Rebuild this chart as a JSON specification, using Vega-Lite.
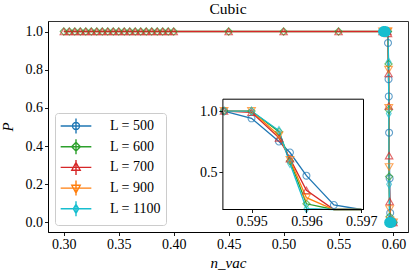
{
  "$schema": "https://vega.github.io/schema/vega-lite/v6.json",
  "width": 360,
  "height": 211,
  "autosize": {"type": "none"},
  "padding": {"left": 48, "top": 21, "right": 8, "bottom": 44},
  "background": "white",
  "title": {"text": "Cubic", "font": "Liberation Serif, DejaVu Serif, serif", "fontSize": 15.5, "fontWeight": "normal", "color": "black", "offset": 4},
  "config": {
    "view": {"stroke": "#333", "strokeWidth": 1},
    "font": "Liberation Serif, DejaVu Serif, serif",
    "axis": {
      "labelFont": "Liberation Serif, DejaVu Serif, serif", "labelFontSize": 14, "labelColor": "black",
      "titleFont": "Liberation Serif, DejaVu Serif, serif", "titleFontSize": 15, "titleFontWeight": "normal", "titleColor": "black",
      "domainColor": "black", "domainWidth": 1, "tickColor": "black", "tickSize": 3.5, "tickWidth": 0.9,
      "grid": false, "labelPadding": 2, "labelFlush": false, "labelOverlap": false
    }
  },
  "datasets": {
    "d": [
      {"L": 500, "x": 0.59, "P": 1.0},
      {"L": 500, "x": 0.5945, "P": 1.0},
      {"L": 500, "x": 0.595, "P": 0.94},
      {"L": 500, "x": 0.5955, "P": 0.75},
      {"L": 500, "x": 0.5957, "P": 0.66},
      {"L": 500, "x": 0.596, "P": 0.47},
      {"L": 500, "x": 0.5965, "P": 0.23},
      {"L": 500, "x": 0.597, "P": 0.05},
      {"L": 500, "x": 0.5975, "P": 0.01},
      {"L": 500, "x": 0.598, "P": 0.0},
      {"L": 500, "x": 0.6, "P": 0.0},
      {"L": 600, "x": 0.3, "P": 1.0}, {"L": 600, "x": 0.305, "P": 1.0}, {"L": 600, "x": 0.31, "P": 1.0},
      {"L": 600, "x": 0.315, "P": 1.0}, {"L": 600, "x": 0.32, "P": 1.0}, {"L": 600, "x": 0.325, "P": 1.0},
      {"L": 600, "x": 0.33, "P": 1.0}, {"L": 600, "x": 0.335, "P": 1.0}, {"L": 600, "x": 0.34, "P": 1.0},
      {"L": 600, "x": 0.345, "P": 1.0}, {"L": 600, "x": 0.35, "P": 1.0}, {"L": 600, "x": 0.355, "P": 1.0},
      {"L": 600, "x": 0.36, "P": 1.0}, {"L": 600, "x": 0.365, "P": 1.0}, {"L": 600, "x": 0.37, "P": 1.0},
      {"L": 600, "x": 0.375, "P": 1.0}, {"L": 600, "x": 0.38, "P": 1.0}, {"L": 600, "x": 0.385, "P": 1.0},
      {"L": 600, "x": 0.39, "P": 1.0}, {"L": 600, "x": 0.395, "P": 1.0}, {"L": 600, "x": 0.4, "P": 1.0},
      {"L": 600, "x": 0.45, "P": 1.0}, {"L": 600, "x": 0.5, "P": 1.0}, {"L": 600, "x": 0.55, "P": 1.0},
      {"L": 600, "x": 0.59, "P": 1.0},
      {"L": 600, "x": 0.5945, "P": 1.0},
      {"L": 600, "x": 0.595, "P": 1.0},
      {"L": 600, "x": 0.5955, "P": 0.83},
      {"L": 600, "x": 0.5957, "P": 0.59},
      {"L": 600, "x": 0.596, "P": 0.24},
      {"L": 600, "x": 0.5965, "P": 0.03},
      {"L": 600, "x": 0.597, "P": 0.0},
      {"L": 600, "x": 0.598, "P": 0.0},
      {"L": 600, "x": 0.6, "P": 0.0},
      {"L": 700, "x": 0.3, "P": 1.0}, {"L": 700, "x": 0.305, "P": 1.0}, {"L": 700, "x": 0.31, "P": 1.0},
      {"L": 700, "x": 0.315, "P": 1.0}, {"L": 700, "x": 0.32, "P": 1.0}, {"L": 700, "x": 0.325, "P": 1.0},
      {"L": 700, "x": 0.33, "P": 1.0}, {"L": 700, "x": 0.335, "P": 1.0}, {"L": 700, "x": 0.34, "P": 1.0},
      {"L": 700, "x": 0.345, "P": 1.0}, {"L": 700, "x": 0.35, "P": 1.0}, {"L": 700, "x": 0.355, "P": 1.0},
      {"L": 700, "x": 0.36, "P": 1.0}, {"L": 700, "x": 0.365, "P": 1.0}, {"L": 700, "x": 0.37, "P": 1.0},
      {"L": 700, "x": 0.375, "P": 1.0}, {"L": 700, "x": 0.38, "P": 1.0}, {"L": 700, "x": 0.385, "P": 1.0},
      {"L": 700, "x": 0.39, "P": 1.0}, {"L": 700, "x": 0.395, "P": 1.0}, {"L": 700, "x": 0.4, "P": 1.0},
      {"L": 700, "x": 0.45, "P": 1.0}, {"L": 700, "x": 0.5, "P": 1.0}, {"L": 700, "x": 0.55, "P": 1.0},
      {"L": 700, "x": 0.59, "P": 1.0},
      {"L": 700, "x": 0.5945, "P": 1.0},
      {"L": 700, "x": 0.595, "P": 0.99},
      {"L": 700, "x": 0.5955, "P": 0.78},
      {"L": 700, "x": 0.5957, "P": 0.61},
      {"L": 700, "x": 0.596, "P": 0.35},
      {"L": 700, "x": 0.5965, "P": 0.11},
      {"L": 700, "x": 0.597, "P": 0.02},
      {"L": 700, "x": 0.598, "P": 0.0},
      {"L": 700, "x": 0.6, "P": 0.0},
      {"L": 900, "x": 0.59, "P": 1.0},
      {"L": 900, "x": 0.5945, "P": 1.0},
      {"L": 900, "x": 0.595, "P": 1.0},
      {"L": 900, "x": 0.5955, "P": 0.8},
      {"L": 900, "x": 0.5957, "P": 0.6},
      {"L": 900, "x": 0.596, "P": 0.29},
      {"L": 900, "x": 0.5965, "P": 0.07},
      {"L": 900, "x": 0.597, "P": 0.01},
      {"L": 900, "x": 0.598, "P": 0.0},
      {"L": 900, "x": 0.6, "P": 0.0},
      {"L": 1100, "x": 0.59, "P": 1.0},
      {"L": 1100, "x": 0.5945, "P": 1.0},
      {"L": 1100, "x": 0.595, "P": 1.0},
      {"L": 1100, "x": 0.5955, "P": 0.84},
      {"L": 1100, "x": 0.5957, "P": 0.57},
      {"L": 1100, "x": 0.596, "P": 0.2},
      {"L": 1100, "x": 0.5965, "P": 0.02},
      {"L": 1100, "x": 0.597, "P": 0.0},
      {"L": 1100, "x": 0.598, "P": 0.0},
      {"L": 1100, "x": 0.6, "P": 0.0}
    ],
    "blob": [
      {"L": 1100, "x": 0.591, "P": 1.0},
      {"L": 1100, "x": 0.5925, "P": 1.0},
      {"L": 1100, "x": 0.5965, "P": 0.0},
      {"L": 1100, "x": 0.5978, "P": 0.0}
    ]
  },
  "layer": [
    {
      "data": {"name": "d"},
      "mark": {"type": "line", "strokeWidth": 1.3, "clip": true},
      "encoding": {
        "x": {"field": "x", "type": "quantitative",
              "scale": {"domain": [0.2856, 0.6132], "nice": false, "zero": false},
              "axis": {"orient": "bottom", "values": [0.3, 0.35, 0.4, 0.45, 0.5, 0.55, 0.6], "format": ".2f", "title": "n_vac", "titleFontStyle": "italic", "titlePadding": 4}},
        "y": {"field": "P", "type": "quantitative",
              "scale": {"domain": [-0.05, 1.055], "nice": false, "zero": false},
              "axis": {"orient": "left", "values": [0, 0.2, 0.4, 0.6, 0.8, 1], "format": ".1f", "title": "P", "titleFontStyle": "italic", "titlePadding": 10}},
        "color": {"field": "L", "type": "nominal",
                  "scale": {"domain": [500, 600, 700, 900, 1100], "range": ["#1f77b4", "#2ca02c", "#d62728", "#ff7f0e", "#17becf"]},
                  "legend": null}
      }
    },
    {
      "data": {"name": "d"},
      "mark": {"type": "point", "filled": false, "strokeWidth": 1.1, "clip": true},
      "encoding": {
        "x": {"field": "x", "type": "quantitative", "scale": {"domain": [0.2856, 0.6132], "nice": false, "zero": false}, "axis": null},
        "y": {"field": "P", "type": "quantitative", "scale": {"domain": [-0.05, 1.055], "nice": false, "zero": false}, "axis": null},
        "color": {"field": "L", "type": "nominal",
                  "scale": {"domain": [500, 600, 700, 900, 1100], "range": ["#1f77b4", "#2ca02c", "#d62728", "#ff7f0e", "#17becf"]},
                  "legend": null},
        "shape": {"field": "L", "type": "nominal",
                  "scale": {"domain": [500, 600, 700, 900, 1100], "range": ["circle", "diamond", "triangle-up", "triangle-down", "M0,-1L0.6,0L0,1L-0.6,0Z"]},
                  "legend": null},
        "size": {"field": "L", "type": "nominal",
                 "scale": {"domain": [500, 600, 700, 900, 1100], "range": [48, 64, 50, 50, 80]},
                 "legend": null}
      }
    },
    {
      "data": {"name": "blob"},
      "mark": {"type": "point", "filled": true, "size": 120, "shape": "circle", "color": "#17becf", "opacity": 1, "clip": true},
      "encoding": {
        "x": {"field": "x", "type": "quantitative", "scale": {"domain": [0.2856, 0.6132], "nice": false, "zero": false}, "axis": null},
        "y": {"field": "P", "type": "quantitative", "scale": {"domain": [-0.05, 1.055], "nice": false, "zero": false}, "axis": null}
      }
    },
    {
      "data": {"name": "d"},
      "transform": [{"filter": "datum.x >= 0.5944 && datum.x <= 0.5971"}],
      "mark": {"type": "line", "strokeWidth": 1.3},
      "encoding": {
        "x": {"field": "x", "type": "quantitative",
              "scale": {"domain": [0.59447, 0.59703], "range": [174.4, 315], "nice": false, "zero": false},
              "axis": {"orient": "bottom", "offset": -23, "values": [0.595, 0.596, 0.597], "format": ".3f", "title": null, "zindex": 1}},
        "y": {"field": "P", "type": "quantitative",
              "scale": {"domain": [0.193, 1.101], "range": [188.5, 77.7], "clamp": true, "nice": false, "zero": false},
              "axis": {"orient": "left", "offset": -174.4, "values": [0.5, 1.0], "format": ".1f", "title": null, "zindex": 1}},
        "color": {"field": "L", "type": "nominal",
                  "scale": {"domain": [500, 600, 700, 900, 1100], "range": ["#1f77b4", "#2ca02c", "#d62728", "#ff7f0e", "#17becf"]},
                  "legend": null}
      }
    },
    {
      "data": {"name": "d"},
      "transform": [{"filter": "datum.x >= 0.5944 && datum.x <= 0.5971 && datum.P >= 0.19"}],
      "mark": {"type": "point", "filled": false, "strokeWidth": 1.1},
      "encoding": {
        "x": {"field": "x", "type": "quantitative", "scale": {"domain": [0.59447, 0.59703], "range": [174.4, 315], "nice": false, "zero": false}, "axis": null},
        "y": {"field": "P", "type": "quantitative", "scale": {"domain": [0.193, 1.101], "range": [188.5, 77.7], "nice": false, "zero": false}, "axis": null},
        "color": {"field": "L", "type": "nominal",
                  "scale": {"domain": [500, 600, 700, 900, 1100], "range": ["#1f77b4", "#2ca02c", "#d62728", "#ff7f0e", "#17becf"]},
                  "legend": null},
        "shape": {"field": "L", "type": "nominal",
                  "scale": {"domain": [500, 600, 700, 900, 1100], "range": ["circle", "diamond", "triangle-up", "triangle-down", "M0,-1L0.6,0L0,1L-0.6,0Z"]},
                  "legend": null},
        "size": {"field": "L", "type": "nominal",
                 "scale": {"domain": [500, 600, 700, 900, 1100], "range": [48, 64, 50, 50, 80]},
                 "legend": null}
      }
    },
    {
      "data": {"name": "d"},
      "transform": [{"filter": "datum.x >= 0.5944 && datum.x <= 0.5971 && datum.P >= 0.19"}],
      "mark": {"type": "point", "opacity": 0},
      "encoding": {
        "x": {"field": "x", "type": "quantitative",
              "scale": {"domain": [0.59447, 0.59703], "range": [174.4, 315], "nice": false, "zero": false},
              "axis": {"orient": "top", "offset": -77.7, "labels": false, "ticks": false, "domain": true, "title": null, "zindex": 1}},
        "y": {"field": "P", "type": "quantitative",
              "scale": {"domain": [0.193, 1.101], "range": [188.5, 77.7], "nice": false, "zero": false},
              "axis": {"orient": "right", "offset": -45, "labels": false, "ticks": false, "domain": true, "title": null, "zindex": 1}}
      }
    },
    {
      "data": {"name": "d"},
      "mark": {"type": "point", "filled": false, "opacity": 0},
      "encoding": {
        "color": {"field": "L", "type": "nominal",
                  "scale": {"domain": [500, 600, 700, 900, 1100], "range": ["#1f77b4", "#2ca02c", "#d62728", "#ff7f0e", "#17becf"]},
                  "legend": {"orient": "bottom-left", "offset": 7, "title": null, "padding": 5,
                             "fillColor": "rgba(255,255,255,0.8)", "strokeColor": "#cccccc", "cornerRadius": 3,
                             "labelFont": "Liberation Serif, DejaVu Serif, serif", "labelFontSize": 14, "labelColor": "black", "labelOffset": 26,
                             "rowPadding": -1.3, "symbolSize": 196, "symbolOffset": 8, "symbolStrokeWidth": 1.4, "symbolOpacity": 1,
                             "labelExpr": "'L = ' + datum.label"}},
        "shape": {"field": "L", "type": "nominal",
                  "scale": {"domain": [500, 600, 700, 900, 1100],
                            "range": [
                              "M-2.19,0L2.19,0M0,-1.07L0,1.07M-0.5,0A0.5,0.5,0,1,0,0.5,0A0.5,0.5,0,1,0,-0.5,0",
                              "M-2.19,0L2.19,0M0,-1.07L0,1.07M0,-0.62L0.62,0L0,0.62L-0.62,0Z",
                              "M-2.19,0L2.19,0M0,-1.07L0,1.07M0,-0.7L0.6,0.4L-0.6,0.4Z",
                              "M-2.19,0L2.19,0M0,-1.07L0,1.07M0,0.7L0.6,-0.4L-0.6,-0.4Z",
                              "M-2.19,0L2.19,0M0,-1.07L0,1.07M0,-0.64L0.38,0L0,0.64L-0.38,0Z"
                            ]},
                  "legend": {"orient": "bottom-left", "offset": 7, "title": null, "padding": 5,
                             "fillColor": "rgba(255,255,255,0.8)", "strokeColor": "#cccccc", "cornerRadius": 3,
                             "labelFont": "Liberation Serif, DejaVu Serif, serif", "labelFontSize": 14, "labelColor": "black", "labelOffset": 26,
                             "rowPadding": -1.3, "symbolSize": 196, "symbolOffset": 8, "symbolStrokeWidth": 1.4, "symbolOpacity": 1,
                             "labelExpr": "'L = ' + datum.label"}}
      }
    }
  ],
  "resolve": {
    "scale": {"x": "independent", "y": "independent", "color": "independent", "shape": "independent", "size": "independent"},
    "axis": {"x": "independent", "y": "independent"},
    "legend": {"color": "independent", "shape": "independent"}
  }
}
